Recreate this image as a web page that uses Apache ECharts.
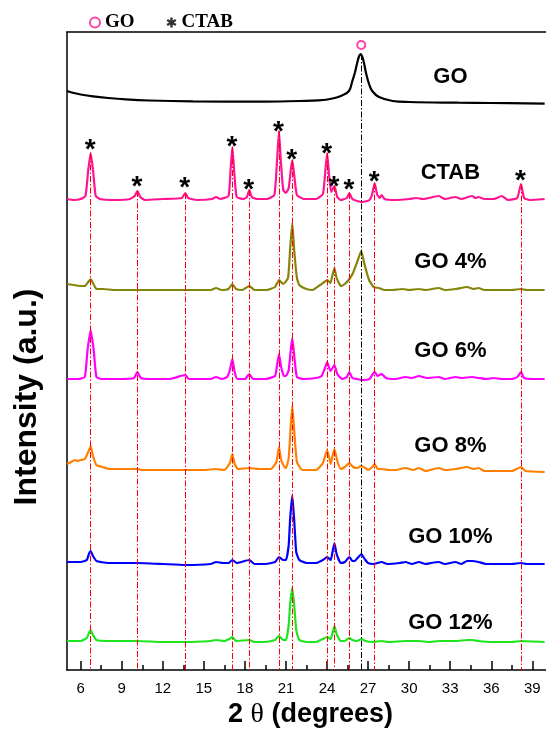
<!DOCTYPE html>
<html>
<head>
<meta charset="utf-8">
<script src="https://cdn.jsdelivr.net/npm/echarts@6/dist/echarts.min.js"></script>
<style>html,body{margin:0;padding:0;background:#fff}#c{width:546px;height:730px}</style>
</head>
<body>
<div id="c"></div>
<script>
// ---------- data ----------
const xTickValues = [6, 9, 12, 15, 18, 21, 24, 27, 30, 33, 36, 39];
const xMinorTickValues = [7.5, 10.5, 13.5, 16.5, 19.5, 22.5, 25.5, 28.5, 31.5, 34.5, 37.5];

const sampleNames = ['GO', 'CTAB', 'GO 4%', 'GO 6%', 'GO 8%', 'GO 10%', 'GO 12%'];

const goData = [[5.0,579],[5.5,577],[6.0,575.5],[6.9,573.6],[8,572],[9.3,570.6],[11,569.5],[14.2,568.6],[19.0,568.3],[22,569],[23.4,569.6],[24.4,571.5],[25.1,574.6],[25.6,579],[25.85,589],[26.05,598],[26.2,607],[26.35,614],[26.46,616],[26.58,613],[26.7,607],[26.85,597],[27.07,586],[27.3,579],[27.8,573],[28.8,569],[30,568],[33.6,567.3],[36,567],[39.9,566.3]];

const ctabData = [[5.0,471],[5.5,470],[6.0,471],[6.35,474],[6.55,500],[6.73,517],[6.9,500],[7.1,474],[7.4,471],[8.5,470],[9.6,471],[9.95,474],[10.14,479],[10.35,473],[10.7,470],[12,471],[13.4,472],[13.64,477],[13.85,472],[14.5,470],[15.6,471],[15.89,473],[16.2,471],[16.8,474],[16.95,500],[17.08,523],[17.22,498],[17.4,473],[17.9,471],[18.15,473],[18.32,480],[18.5,473],[18.9,471],[19.6,471],[20.15,475],[20.35,510],[20.49,539],[20.62,510],[20.8,480],[21.0,477],[21.2,482],[21.35,500],[21.46,510],[21.6,495],[21.8,475],[22.3,471],[23.2,471],[23.7,476],[23.88,500],[24.01,517],[24.15,495],[24.3,478],[24.54,484],[24.75,473],[25.0,470],[25.45,472],[25.63,477],[25.85,471],[26.2,469],[26.6,468],[27.1,470],[27.3,476],[27.48,487],[27.65,476],[27.85,472],[27.99,475],[28.2,471],[29,470],[30,471],[30.5,472],[31,471],[32.17,474],[32.6,471],[33.38,473],[33.8,471],[34.6,474],[34.85,472],[35.07,473],[35.5,471],[36.2,471],[36.77,474],[37.2,470],[37.9,472],[38.17,486],[38.4,472],[38.8,470],[39.9,471]];

const go4Data = [[5.0,386],[5.5,385],[5.93,384],[6.3,384],[6.55,388],[6.73,391],[6.9,387],[7.15,381],[7.6,381],[8.5,380],[10.14,380],[12,380],[13.64,380],[15.5,380],[15.89,382],[16.3,380],[16.8,381],[17.08,386],[17.35,381],[17.8,380],[18.32,384],[18.7,380],[19.6,380],[20.2,383],[20.49,390],[20.8,386],[21.15,392],[21.3,420],[21.46,447],[21.6,420],[21.8,392],[21.97,385],[22.5,381],[22.94,380],[23.5,385],[23.8,388],[24.01,390],[24.25,387],[24.4,395],[24.54,402],[24.7,392],[25.01,384],[25.3,386],[25.63,391],[25.9,397],[26.2,408],[26.5,419],[26.75,405],[27.07,390],[27.4,383],[27.8,382],[28.2,380],[28.8,380],[29.5,381],[30,380],[30.7,381],[31.2,380],[32.17,382],[32.6,380],[33.38,381],[34.24,383],[34.7,381],[35.07,382],[35.5,380],[36.5,380],[37.5,380],[38.17,381],[38.6,380],[39.9,380]];

const go6Data = [[5.0,291],[5.8,291],[6.3,293],[6.5,320],[6.73,340],[6.95,320],[7.15,293],[7.5,291],[9,291],[9.9,292],[10.14,298],[10.4,292],[11,291],[12.5,291],[13.64,295],[13.9,291],[15.5,291],[15.89,293],[16.3,291],[16.7,293],[16.9,300],[17.08,311],[17.25,298],[17.45,291],[18.0,291],[18.32,296],[18.6,291],[19.5,291],[20.2,294],[20.35,305],[20.49,316],[20.65,303],[20.85,294],[21.0,294],[21.2,300],[21.35,320],[21.46,332],[21.6,315],[21.8,293],[22.3,291],[23.2,292],[23.6,294],[23.85,302],[24.01,308],[24.25,299],[24.54,305],[24.75,296],[25.1,291],[25.45,293],[25.63,298],[25.85,292],[26.2,291],[26.5,290],[27.1,291],[27.35,296],[27.48,298],[27.7,294],[27.99,296],[28.3,292],[29,291],[29.74,293],[30.2,292],[30.71,294],[31.3,292],[32.17,293],[32.6,291],[33.4,293],[33.8,292],[34.6,293],[35.07,292],[35.6,291],[36.2,292],[36.77,291],[37.5,291],[37.9,293],[38.17,298],[38.4,292],[39,291],[39.9,291]];

const go8Data = [[5.0,206],[5.3,208],[5.6,210],[5.76,209],[6.0,210],[6.3,211],[6.55,218],[6.73,224],[6.9,214],[7.15,205],[7.6,203],[8.1,201],[9,201],[10.14,201],[10.5,200],[12,200],[13.64,200],[15,200],[15.89,201],[16.5,200],[16.9,207],[17.08,216],[17.25,206],[17.5,201],[18.32,202],[19,201],[19.9,201],[20.3,208],[20.49,223],[20.65,210],[20.85,204],[21.0,202],[21.2,212],[21.35,245],[21.46,264],[21.6,240],[21.8,208],[22.2,200],[23.2,200],[23.7,207],[24.01,220],[24.2,210],[24.27,206],[24.4,214],[24.54,221],[24.75,209],[25.0,201],[25.3,203],[25.63,207],[25.9,203],[26.2,202],[26.5,204],[26.8,202],[27.0,200],[27.3,203],[27.48,206],[27.7,201],[27.99,201],[28.5,200],[29,200],[29.74,202],[30.3,200],[30.71,202],[31.2,199],[32.17,202],[32.6,200],[33.38,201],[34.24,203],[34.7,201],[35.07,202],[35.5,199],[36.5,199],[37.5,199],[38.17,203],[38.5,199],[39.9,198]];

const go10Data = [[5.0,108],[6.0,108],[6.45,110],[6.6,116],[6.73,119],[6.9,114],[7.15,109],[8,107],[10.14,107],[12,106],[13.64,105],[15.5,106],[15.89,108],[16.4,107],[16.8,107],[17.08,110],[17.4,107],[18.32,110],[18.7,106],[19.5,106],[20.2,108],[20.49,113],[20.8,110],[21.0,110],[21.2,125],[21.3,150],[21.46,175],[21.6,150],[21.75,118],[21.97,110],[22.5,107],[23.2,107],[23.7,110],[24.01,113],[24.27,110],[24.4,118],[24.54,127],[24.7,116],[25.0,107],[25.3,108],[25.63,113],[25.85,109],[26.0,109],[26.3,113],[26.5,116],[26.75,111],[27.0,107],[27.4,106],[27.99,108],[28.4,106],[29.3,107],[29.74,108],[30.2,106],[30.71,108],[31.2,106],[31.6,107],[32.17,108],[32.6,106],[33.4,108],[33.8,106],[34.24,109],[34.6,109],[35.07,108],[35.6,106],[36.5,106],[37.5,106],[38.17,107],[38.6,106],[39.9,106]];

const go12Data = [[5.0,29],[6.0,29],[6.45,32],[6.6,37],[6.73,40],[6.9,35],[7.15,30],[8,29],[10.14,29],[12,28],[13.64,28],[15.5,29],[15.89,30],[16.5,29],[16.85,31],[17.08,33],[17.35,29],[18.32,30],[18.7,28],[19.5,28],[20.2,30],[20.49,34],[20.8,30],[21.0,30],[21.2,45],[21.3,65],[21.46,82],[21.6,65],[21.75,40],[21.97,30],[22.5,28],[23.2,28],[23.7,31],[24.01,33],[24.27,31],[24.4,37],[24.54,44],[24.7,36],[25.0,29],[25.3,29],[25.63,32],[25.85,30],[26.2,29],[26.5,31],[26.8,29],[27.3,28],[27.99,29],[28.5,28],[29.74,29],[30.71,29],[31.5,28],[32.17,29],[33.4,29],[34.24,30],[34.6,30],[35.07,29],[36,28],[37.5,28],[38.17,29],[39.9,28]];

// CTAB reflections (asterisks) and GO reflection (circle)
const ctabPeaks = [6.73, 10.14, 13.64, 17.08, 18.32, 20.49, 21.46, 24.01, 24.54, 25.63, 27.48, 38.17];
const ctabStarHeights = [526, 489, 488, 529, 486, 544, 516, 522, 489, 486, 494, 495];
const goPeak = 26.5;
const goPeakTop = 616;
const goMarkerHeight = 625;

// label anchors for the curve names (in data units)
const curveLabelX = 33.05;
const curveLabelY = [593, 497, 408, 319, 224, 133, 47];

// ---------- build ----------
const curveData = [goData, ctabData, go4Data, go6Data, go8Data, go10Data, go12Data];
const curveColors = ['#000000', '#FF1493', '#85850A', '#FF00FF', '#FF8000', '#0000FF', '#1EE61E'];
const font = 'Liberation Sans, Arial, sans-serif';
const serif = 'Liberation Serif, Times New Roman, serif';

function valueAt(data, x) {
  const p = data.find(d => Math.abs(d[0] - x) < 1e-6);
  return p ? p[1] : 0;
}

const series = [];
sampleNames.forEach((name, i) => {
  series.push({
    type: 'line',
    name: name + ' pattern',
    data: curveData[i],
    symbol: 'none',
    smooth: i === 0 ? 0.4 : 0.15,
    lineStyle: { color: curveColors[i], width: 2.2 },
    z: 3
  });
});

const dashDot = [6, 2, 1.5, 2];
series.push({
  type: 'line',
  name: 'reference lines',
  data: [],
  symbol: 'none',
  markLine: {
    silent: true,
    symbol: ['none', 'none'],
    label: { show: false },
    animation: false,
    data: ctabPeaks.map(x => [
      { coord: [x, valueAt(ctabData, x)], lineStyle: { color: '#FF0000', width: 1, type: dashDot } },
      { coord: [x, 0] }
    ]).concat([[
      { coord: [goPeak, goPeakTop], lineStyle: { color: '#000000', width: 1, type: dashDot } },
      { coord: [goPeak, 0] }
    ]])
  },
  z: 4
});

const textLabel = {
  show: true, position: [0, 0], align: 'center', verticalAlign: 'middle',
  fontWeight: 'bold', fontFamily: font, color: '#000000',
  textBorderWidth: 0, opacity: 1
};

series.push({
  type: 'scatter',
  name: 'CTAB',
  data: ctabPeaks.map((x, i) => [x, ctabStarHeights[i]]),
  symbol: 'circle',
  symbolSize: 1,
  itemStyle: { color: 'rgba(255,255,255,0)' },
  label: Object.assign({}, textLabel, { formatter: '*', fontSize: 28, offset: [0, 7] }),
  z: 6
});

series.push({
  type: 'scatter',
  name: 'GO',
  data: [[goPeak, goMarkerHeight]],
  symbol: 'circle',
  symbolSize: 8,
  itemStyle: { color: '#ffffff', borderColor: '#FF1493', borderWidth: 2 },
  z: 6
});

series.push({
  type: 'scatter',
  name: 'curve names',
  data: sampleNames.map((n, i) => ({ name: n, value: [curveLabelX, curveLabelY[i]] })),
  symbol: 'circle',
  symbolSize: 1,
  itemStyle: { color: 'rgba(255,255,255,0)' },
  label: Object.assign({}, textLabel, { formatter: p => p.name, fontSize: 22 }),
  z: 6
});

const asteriskPath = 'path://M3.8,0L6.2,0L6.2,10L3.8,10ZM0.07,3.54L1.27,1.46L9.93,6.46L8.73,8.54ZM1.27,8.54L0.07,6.46L8.73,1.46L9.93,3.54Z';

const option = {
  animation: false,
  backgroundColor: '#ffffff',
  grid: { left: 67, right: 0, top: 32, bottom: 60, containLabel: false, outerBoundsMode: 'none' },
  legend: {
    left: 84, top: 8,
    itemGap: 32,
    itemWidth: 10, itemHeight: 10,
    selectedMode: false,
    textStyle: { fontFamily: serif, fontWeight: 'bold', fontSize: 19, color: '#000' },
    data: [
      { name: 'GO', icon: 'circle', itemWidth: 9, itemHeight: 9, itemStyle: { color: '#ffffff', borderColor: '#FF1493', borderWidth: 2 } },
      { name: 'CTAB', icon: asteriskPath, itemStyle: { color: '#000000', borderWidth: 0 } }
    ]
  },
  xAxis: [
    {
      type: 'value', min: 5, max: 40, position: 'bottom',
      name: '2 {t|θ} (degrees)', nameLocation: 'middle', nameGap: 27,
      nameTextStyle: {
        fontFamily: font, fontWeight: 'bold', fontSize: 27, color: '#000',
        padding: [0, 0, 0, 8],
        rich: { t: { fontFamily: serif, fontWeight: 'normal', fontSize: 28, color: '#000' } }
      },
      axisLine: { show: true, lineStyle: { color: '#000', width: 1.5 } },
      axisTick: { show: true, inside: true, length: 9, customValues: xTickValues, lineStyle: { color: '#000', width: 1.5 } },
      axisLabel: { show: true, customValues: xTickValues, margin: 11, fontFamily: font, fontSize: 15, color: '#000' },
      splitLine: { show: false }
    },
    {
      type: 'value', min: 5, max: 40, position: 'bottom',
      axisLine: { show: false },
      axisTick: { show: true, inside: true, length: 5, customValues: xMinorTickValues, lineStyle: { color: '#000', width: 1.5 } },
      axisLabel: { show: false },
      splitLine: { show: false }
    },
    {
      type: 'value', min: 5, max: 40, position: 'top',
      axisLine: { show: true, lineStyle: { color: '#000', width: 1.5 } },
      axisTick: { show: false }, axisLabel: { show: false }, splitLine: { show: false }
    }
  ],
  yAxis: {
    type: 'value', min: 0, max: 638,
    name: 'Intensity (a.u.)', nameLocation: 'middle', nameGap: 24, nameRotate: 90,
    nameTextStyle: { fontFamily: font, fontWeight: 'bold', fontSize: 32, color: '#000', padding: [0, 92, 0, 0] },
    axisLine: { show: true, lineStyle: { color: '#000', width: 1.5 } },
    axisTick: { show: false }, axisLabel: { show: false }, splitLine: { show: false }
  },
  series: series
};

const chart = echarts.init(document.getElementById('c'), null, { renderer: 'canvas' });
chart.setOption(option);
</script>
</body>
</html>
